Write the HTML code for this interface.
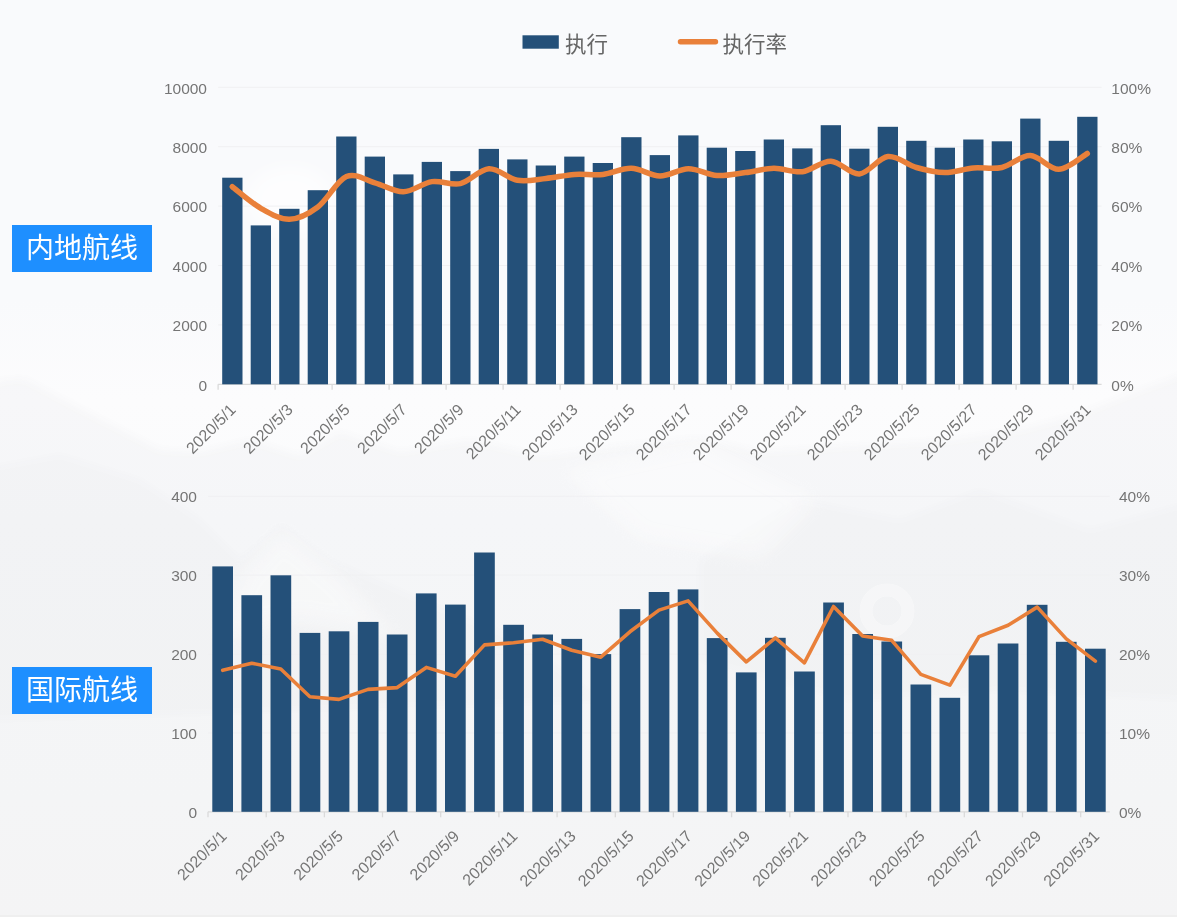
<!DOCTYPE html>
<html lang="zh"><head><meta charset="utf-8"><title>航线执行率</title>
<style>
html,body{margin:0;padding:0}
body{width:1177px;height:917px;overflow:hidden;position:relative;background:#f9fafc;font-family:"Liberation Sans","Noto Sans CJK SC",sans-serif}
#bg{position:absolute;left:0;top:0;width:1177px;height:917px;background:linear-gradient(180deg,#f9fafc 0px,#f9fafc 300px,#fcfcfd 400px,#fafbfc 520px,#f9fafa 800px,#f9f9f9 917px)}
svg{position:absolute;left:0;top:0;filter:blur(0.5px)}
.ax{font-size:15.5px;fill:#757575;font-family:"Liberation Sans","Noto Sans CJK SC",sans-serif}
.xl{font-size:16px;fill:#757575;font-family:"Liberation Sans","Noto Sans CJK SC",sans-serif}
.lg{font-size:21.5px;fill:#666;font-family:"Liberation Sans","Noto Sans CJK SC",sans-serif}
.tag{position:absolute;left:12px;width:140px;height:47px;background:#1e8fff;color:#fff;font-size:28px;line-height:48px;text-align:center;letter-spacing:0px;filter:blur(0.4px)}
</style></head><body>
<div id="bg"></div>
<svg width="1177" height="917" viewBox="0 0 1177 917">
<defs><filter id="bl" color-interpolation-filters="sRGB" x="-5%" y="-5%" width="110%" height="110%"><feGaussianBlur stdDeviation="4"/></filter>
<filter id="bl2" color-interpolation-filters="sRGB" x="-20%" y="-20%" width="140%" height="140%"><feGaussianBlur stdDeviation="9"/></filter></defs>
<g id="mount">
<g opacity="0.028"><path filter="url(#bl)" d="M-20 392 L3 380 L25 379 L60 398 L110 424 L160 450 L200 452 L250 440 L300 456 L340 432 L400 452 L470 440 L540 456 L620 446 L700 438 L760 452 L850 446 L950 440 L1020 430 L1080 414 L1130 394 L1200 368 L1200 940 L-20 940Z" fill="#556"/></g>
<g opacity="0.014"><path filter="url(#bl)" d="M-20 470 L60 455 L140 480 L200 520 L240 560 L281 524 L330 560 L420 600 L520 640 L600 700 L-20 720Z" fill="#556"/></g>
<g opacity="0.014"><path filter="url(#bl)" d="M700 560 L800 500 L900 520 L980 490 L1090 530 L1200 500 L1200 700 L1000 690 L850 700 L700 660Z" fill="#556"/></g>
<g opacity="0.4"><path filter="url(#bl2)" d="M240 575 L281 528 L340 575 L400 640 L300 620 L220 640Z" fill="#fff"/></g>
<g opacity="0.4"><path filter="url(#bl2)" d="M560 470 L700 440 L820 500 L760 560 L640 540Z" fill="#fff"/></g>
<g opacity="0.6"><ellipse filter="url(#bl2)" cx="290" cy="200" rx="45" ry="35" fill="#fff"/></g>
<circle cx="887" cy="611" r="21" fill="none" stroke="#fff" stroke-width="13" stroke-opacity="0.35"/>
</g>
<rect x="522.5" y="35.3" width="36.3" height="13.4" fill="#245079"/>
<text x="565" y="51.5" class="lg">执行</text>
<line x1="680.5" x2="715.5" y1="41.8" y2="41.8" stroke="#E9803A" stroke-width="5.4" stroke-linecap="round"/>
<text x="722.5" y="51.5" class="lg">执行率</text>
<line x1="218.1" x2="1101.6" y1="87.3" y2="87.3" stroke="#F0F0F2" stroke-width="1"/>
<line x1="218.1" x2="1101.6" y1="146.7" y2="146.7" stroke="#F0F0F2" stroke-width="1"/>
<line x1="218.1" x2="1101.6" y1="206.1" y2="206.1" stroke="#F0F0F2" stroke-width="1"/>
<line x1="218.1" x2="1101.6" y1="265.5" y2="265.5" stroke="#F0F0F2" stroke-width="1"/>
<line x1="218.1" x2="1101.6" y1="324.9" y2="324.9" stroke="#F0F0F2" stroke-width="1"/>
<line x1="218.1" x2="1101.6" y1="384.3" y2="384.3" stroke="#DADADA" stroke-width="1.3"/>
<line x1="218.1" x2="218.1" y1="384.3" y2="389.8" stroke="#DADADA" stroke-width="1.3"/>
<line x1="275.1" x2="275.1" y1="384.3" y2="389.8" stroke="#DADADA" stroke-width="1.3"/>
<line x1="332.1" x2="332.1" y1="384.3" y2="389.8" stroke="#DADADA" stroke-width="1.3"/>
<line x1="389.1" x2="389.1" y1="384.3" y2="389.8" stroke="#DADADA" stroke-width="1.3"/>
<line x1="446.1" x2="446.1" y1="384.3" y2="389.8" stroke="#DADADA" stroke-width="1.3"/>
<line x1="503.1" x2="503.1" y1="384.3" y2="389.8" stroke="#DADADA" stroke-width="1.3"/>
<line x1="560.1" x2="560.1" y1="384.3" y2="389.8" stroke="#DADADA" stroke-width="1.3"/>
<line x1="617.1" x2="617.1" y1="384.3" y2="389.8" stroke="#DADADA" stroke-width="1.3"/>
<line x1="674.1" x2="674.1" y1="384.3" y2="389.8" stroke="#DADADA" stroke-width="1.3"/>
<line x1="731.1" x2="731.1" y1="384.3" y2="389.8" stroke="#DADADA" stroke-width="1.3"/>
<line x1="788.1" x2="788.1" y1="384.3" y2="389.8" stroke="#DADADA" stroke-width="1.3"/>
<line x1="845.1" x2="845.1" y1="384.3" y2="389.8" stroke="#DADADA" stroke-width="1.3"/>
<line x1="902.1" x2="902.1" y1="384.3" y2="389.8" stroke="#DADADA" stroke-width="1.3"/>
<line x1="959.1" x2="959.1" y1="384.3" y2="389.8" stroke="#DADADA" stroke-width="1.3"/>
<line x1="1016.1" x2="1016.1" y1="384.3" y2="389.8" stroke="#DADADA" stroke-width="1.3"/>
<line x1="1073.1" x2="1073.1" y1="384.3" y2="389.8" stroke="#DADADA" stroke-width="1.3"/>
<rect x="222.2" y="177.7" width="20.3" height="206.6" fill="#245079"/>
<rect x="250.7" y="225.4" width="20.3" height="158.9" fill="#245079"/>
<rect x="279.2" y="208.8" width="20.3" height="175.5" fill="#245079"/>
<rect x="307.7" y="190.2" width="20.3" height="194.1" fill="#245079"/>
<rect x="336.2" y="136.5" width="20.3" height="247.8" fill="#245079"/>
<rect x="364.7" y="156.6" width="20.3" height="227.7" fill="#245079"/>
<rect x="393.2" y="174.4" width="20.3" height="209.9" fill="#245079"/>
<rect x="421.7" y="161.9" width="20.3" height="222.4" fill="#245079"/>
<rect x="450.2" y="171.1" width="20.3" height="213.2" fill="#245079"/>
<rect x="478.7" y="148.9" width="20.3" height="235.4" fill="#245079"/>
<rect x="507.2" y="159.4" width="20.3" height="224.9" fill="#245079"/>
<rect x="535.7" y="165.5" width="20.3" height="218.8" fill="#245079"/>
<rect x="564.2" y="156.6" width="20.3" height="227.7" fill="#245079"/>
<rect x="592.7" y="163.0" width="20.3" height="221.3" fill="#245079"/>
<rect x="621.2" y="137.2" width="20.3" height="247.1" fill="#245079"/>
<rect x="649.7" y="155.1" width="20.3" height="229.2" fill="#245079"/>
<rect x="678.2" y="135.4" width="20.3" height="248.9" fill="#245079"/>
<rect x="706.7" y="147.7" width="20.3" height="236.6" fill="#245079"/>
<rect x="735.2" y="151.0" width="20.3" height="233.3" fill="#245079"/>
<rect x="763.7" y="139.5" width="20.3" height="244.8" fill="#245079"/>
<rect x="792.2" y="148.4" width="20.3" height="235.9" fill="#245079"/>
<rect x="820.7" y="125.2" width="20.3" height="259.1" fill="#245079"/>
<rect x="849.2" y="148.7" width="20.3" height="235.6" fill="#245079"/>
<rect x="877.7" y="126.8" width="20.3" height="257.5" fill="#245079"/>
<rect x="906.2" y="140.8" width="20.3" height="243.5" fill="#245079"/>
<rect x="934.7" y="147.7" width="20.3" height="236.6" fill="#245079"/>
<rect x="963.2" y="139.5" width="20.3" height="244.8" fill="#245079"/>
<rect x="991.7" y="141.3" width="20.3" height="243.0" fill="#245079"/>
<rect x="1020.2" y="118.6" width="20.3" height="265.7" fill="#245079"/>
<rect x="1048.7" y="140.8" width="20.3" height="243.5" fill="#245079"/>
<rect x="1077.2" y="116.8" width="20.3" height="267.5" fill="#245079"/>
<path d="M232.3 186.7 C237.1 190.3 251.4 202.9 260.9 208.3 C270.4 213.7 279.9 219.5 289.4 219.3 C298.9 219.1 308.4 214.1 317.9 207.0 C327.4 199.9 336.9 180.5 346.4 176.5 C355.9 172.5 365.4 180.2 374.9 182.8 C384.4 185.4 393.9 192.0 403.4 191.8 C412.9 191.6 422.4 183.0 431.9 181.6 C441.4 180.2 450.9 185.7 460.4 183.6 C469.9 181.5 479.4 169.4 488.9 168.8 C498.4 168.2 507.9 178.7 517.4 180.3 C526.9 181.9 536.4 179.5 545.9 178.5 C555.4 177.5 564.9 175.1 574.4 174.4 C583.9 173.7 593.4 175.4 602.9 174.4 C612.4 173.4 621.9 168.0 631.4 168.3 C640.9 168.6 650.4 175.9 659.9 176.0 C669.4 176.1 678.9 168.9 688.4 168.8 C697.9 168.7 707.4 174.9 716.9 175.5 C726.4 176.1 735.9 173.8 745.4 172.6 C754.9 171.4 764.4 168.5 773.9 168.3 C783.4 168.2 792.9 172.9 802.4 171.7 C811.9 170.5 821.4 160.8 830.9 161.2 C840.4 161.6 849.9 174.7 859.4 173.9 C868.9 173.1 878.4 157.7 887.9 156.6 C897.4 155.5 906.9 164.8 916.4 167.5 C925.9 170.2 935.4 172.5 944.9 172.6 C954.4 172.7 963.9 168.8 973.4 168.0 C982.9 167.2 992.4 169.6 1001.9 167.5 C1011.4 165.4 1020.8 155.3 1030.3 155.6 C1039.8 155.9 1049.3 169.7 1058.8 169.3 C1068.3 169.0 1082.6 156.1 1087.3 153.5" fill="none" stroke="#E9803A" stroke-width="5.5" stroke-linecap="round" stroke-linejoin="round"/>
<text x="207.0" y="93.6" text-anchor="end" class="ax">10000</text>
<text x="207.0" y="153.0" text-anchor="end" class="ax">8000</text>
<text x="207.0" y="212.4" text-anchor="end" class="ax">6000</text>
<text x="207.0" y="271.8" text-anchor="end" class="ax">4000</text>
<text x="207.0" y="331.2" text-anchor="end" class="ax">2000</text>
<text x="207.0" y="390.6" text-anchor="end" class="ax">0</text>
<text x="1111.3" y="93.6" class="ax">100%</text>
<text x="1111.3" y="153.0" class="ax">80%</text>
<text x="1111.3" y="212.4" class="ax">60%</text>
<text x="1111.3" y="271.8" class="ax">40%</text>
<text x="1111.3" y="331.2" class="ax">20%</text>
<text x="1111.3" y="390.6" class="ax">0%</text>
<text transform="translate(236.8 410.8) rotate(-45)" text-anchor="end" class="xl">2020/5/1</text>
<text transform="translate(293.9 410.8) rotate(-45)" text-anchor="end" class="xl">2020/5/3</text>
<text transform="translate(350.9 410.8) rotate(-45)" text-anchor="end" class="xl">2020/5/5</text>
<text transform="translate(407.9 410.8) rotate(-45)" text-anchor="end" class="xl">2020/5/7</text>
<text transform="translate(464.9 410.8) rotate(-45)" text-anchor="end" class="xl">2020/5/9</text>
<text transform="translate(521.9 410.8) rotate(-45)" text-anchor="end" class="xl">2020/5/11</text>
<text transform="translate(578.9 410.8) rotate(-45)" text-anchor="end" class="xl">2020/5/13</text>
<text transform="translate(635.9 410.8) rotate(-45)" text-anchor="end" class="xl">2020/5/15</text>
<text transform="translate(692.9 410.8) rotate(-45)" text-anchor="end" class="xl">2020/5/17</text>
<text transform="translate(749.9 410.8) rotate(-45)" text-anchor="end" class="xl">2020/5/19</text>
<text transform="translate(806.9 410.8) rotate(-45)" text-anchor="end" class="xl">2020/5/21</text>
<text transform="translate(863.9 410.8) rotate(-45)" text-anchor="end" class="xl">2020/5/23</text>
<text transform="translate(920.9 410.8) rotate(-45)" text-anchor="end" class="xl">2020/5/25</text>
<text transform="translate(977.9 410.8) rotate(-45)" text-anchor="end" class="xl">2020/5/27</text>
<text transform="translate(1034.8 410.8) rotate(-45)" text-anchor="end" class="xl">2020/5/29</text>
<text transform="translate(1091.8 410.8) rotate(-45)" text-anchor="end" class="xl">2020/5/31</text>
<line x1="208.0" x2="1109.8" y1="496.2" y2="496.2" stroke="#F0F0F2" stroke-width="1"/>
<line x1="208.0" x2="1109.8" y1="575.1" y2="575.1" stroke="#F0F0F2" stroke-width="1"/>
<line x1="208.0" x2="1109.8" y1="654.0" y2="654.0" stroke="#F0F0F2" stroke-width="1"/>
<line x1="208.0" x2="1109.8" y1="732.9" y2="732.9" stroke="#F0F0F2" stroke-width="1"/>
<line x1="208.0" x2="1109.8" y1="811.8" y2="811.8" stroke="#DADADA" stroke-width="1.3"/>
<line x1="208.0" x2="208.0" y1="811.8" y2="817.3" stroke="#DADADA" stroke-width="1.3"/>
<line x1="266.2" x2="266.2" y1="811.8" y2="817.3" stroke="#DADADA" stroke-width="1.3"/>
<line x1="324.4" x2="324.4" y1="811.8" y2="817.3" stroke="#DADADA" stroke-width="1.3"/>
<line x1="382.5" x2="382.5" y1="811.8" y2="817.3" stroke="#DADADA" stroke-width="1.3"/>
<line x1="440.7" x2="440.7" y1="811.8" y2="817.3" stroke="#DADADA" stroke-width="1.3"/>
<line x1="498.9" x2="498.9" y1="811.8" y2="817.3" stroke="#DADADA" stroke-width="1.3"/>
<line x1="557.1" x2="557.1" y1="811.8" y2="817.3" stroke="#DADADA" stroke-width="1.3"/>
<line x1="615.3" x2="615.3" y1="811.8" y2="817.3" stroke="#DADADA" stroke-width="1.3"/>
<line x1="673.4" x2="673.4" y1="811.8" y2="817.3" stroke="#DADADA" stroke-width="1.3"/>
<line x1="731.6" x2="731.6" y1="811.8" y2="817.3" stroke="#DADADA" stroke-width="1.3"/>
<line x1="789.8" x2="789.8" y1="811.8" y2="817.3" stroke="#DADADA" stroke-width="1.3"/>
<line x1="848.0" x2="848.0" y1="811.8" y2="817.3" stroke="#DADADA" stroke-width="1.3"/>
<line x1="906.2" x2="906.2" y1="811.8" y2="817.3" stroke="#DADADA" stroke-width="1.3"/>
<line x1="964.3" x2="964.3" y1="811.8" y2="817.3" stroke="#DADADA" stroke-width="1.3"/>
<line x1="1022.5" x2="1022.5" y1="811.8" y2="817.3" stroke="#DADADA" stroke-width="1.3"/>
<line x1="1080.7" x2="1080.7" y1="811.8" y2="817.3" stroke="#DADADA" stroke-width="1.3"/>
<rect x="212.3" y="566.4" width="20.7" height="245.4" fill="#245079"/>
<rect x="241.4" y="595.2" width="20.7" height="216.6" fill="#245079"/>
<rect x="270.5" y="575.3" width="20.7" height="236.5" fill="#245079"/>
<rect x="299.6" y="632.9" width="20.7" height="178.9" fill="#245079"/>
<rect x="328.7" y="631.3" width="20.7" height="180.5" fill="#245079"/>
<rect x="357.8" y="621.9" width="20.7" height="189.9" fill="#245079"/>
<rect x="386.8" y="634.5" width="20.7" height="177.3" fill="#245079"/>
<rect x="415.9" y="593.4" width="20.7" height="218.4" fill="#245079"/>
<rect x="445.0" y="604.6" width="20.7" height="207.2" fill="#245079"/>
<rect x="474.1" y="552.5" width="20.7" height="259.3" fill="#245079"/>
<rect x="503.2" y="624.8" width="20.7" height="187.0" fill="#245079"/>
<rect x="532.3" y="634.5" width="20.7" height="177.3" fill="#245079"/>
<rect x="561.4" y="638.9" width="20.7" height="172.9" fill="#245079"/>
<rect x="590.5" y="654.1" width="20.7" height="157.7" fill="#245079"/>
<rect x="619.6" y="609.1" width="20.7" height="202.7" fill="#245079"/>
<rect x="648.7" y="592.0" width="20.7" height="219.8" fill="#245079"/>
<rect x="677.7" y="589.4" width="20.7" height="222.4" fill="#245079"/>
<rect x="706.8" y="638.1" width="20.7" height="173.7" fill="#245079"/>
<rect x="735.9" y="672.4" width="20.7" height="139.4" fill="#245079"/>
<rect x="765.0" y="637.8" width="20.7" height="174.0" fill="#245079"/>
<rect x="794.1" y="671.5" width="20.7" height="140.3" fill="#245079"/>
<rect x="823.2" y="602.5" width="20.7" height="209.3" fill="#245079"/>
<rect x="852.3" y="634.0" width="20.7" height="177.8" fill="#245079"/>
<rect x="881.4" y="641.5" width="20.7" height="170.3" fill="#245079"/>
<rect x="910.5" y="684.5" width="20.7" height="127.3" fill="#245079"/>
<rect x="939.5" y="697.8" width="20.7" height="114.0" fill="#245079"/>
<rect x="968.6" y="655.3" width="20.7" height="156.5" fill="#245079"/>
<rect x="997.7" y="643.5" width="20.7" height="168.3" fill="#245079"/>
<rect x="1026.8" y="604.8" width="20.7" height="207.0" fill="#245079"/>
<rect x="1055.9" y="641.8" width="20.7" height="170.0" fill="#245079"/>
<rect x="1085.0" y="648.7" width="20.7" height="163.1" fill="#245079"/>
<path d="M222.7 670.3 L251.7 663.2 L280.8 669.0 L309.9 696.8 L339.0 699.4 L368.1 689.4 L397.2 687.6 L426.3 667.4 L455.4 676.3 L484.5 644.9 L513.5 642.8 L542.6 639.2 L571.7 650.2 L600.8 657.2 L629.9 631.8 L659.0 610.1 L688.1 600.9 L717.2 633.1 L746.3 661.9 L775.4 637.9 L804.4 662.8 L833.5 606.5 L862.6 636.0 L891.7 640.3 L920.8 674.4 L949.9 685.1 L979.0 636.6 L1008.1 625.3 L1037.2 607.1 L1066.3 638.9 L1095.4 661.1" fill="none" stroke="#E9803A" stroke-width="3.6" stroke-linecap="round" stroke-linejoin="round"/>
<text x="197.0" y="502.0" text-anchor="end" class="ax">400</text>
<text x="197.0" y="580.9" text-anchor="end" class="ax">300</text>
<text x="197.0" y="659.8" text-anchor="end" class="ax">200</text>
<text x="197.0" y="738.7" text-anchor="end" class="ax">100</text>
<text x="197.0" y="817.6" text-anchor="end" class="ax">0</text>
<text x="1119.0" y="502.0" class="ax">40%</text>
<text x="1119.0" y="580.9" class="ax">30%</text>
<text x="1119.0" y="659.8" class="ax">20%</text>
<text x="1119.0" y="738.7" class="ax">10%</text>
<text x="1119.0" y="817.6" class="ax">0%</text>
<text transform="translate(227.7 837.1) rotate(-45)" text-anchor="end" class="xl">2020/5/1</text>
<text transform="translate(285.8 837.1) rotate(-45)" text-anchor="end" class="xl">2020/5/3</text>
<text transform="translate(344.0 837.1) rotate(-45)" text-anchor="end" class="xl">2020/5/5</text>
<text transform="translate(402.2 837.1) rotate(-45)" text-anchor="end" class="xl">2020/5/7</text>
<text transform="translate(460.4 837.1) rotate(-45)" text-anchor="end" class="xl">2020/5/9</text>
<text transform="translate(518.5 837.1) rotate(-45)" text-anchor="end" class="xl">2020/5/11</text>
<text transform="translate(576.7 837.1) rotate(-45)" text-anchor="end" class="xl">2020/5/13</text>
<text transform="translate(634.9 837.1) rotate(-45)" text-anchor="end" class="xl">2020/5/15</text>
<text transform="translate(693.1 837.1) rotate(-45)" text-anchor="end" class="xl">2020/5/17</text>
<text transform="translate(751.3 837.1) rotate(-45)" text-anchor="end" class="xl">2020/5/19</text>
<text transform="translate(809.4 837.1) rotate(-45)" text-anchor="end" class="xl">2020/5/21</text>
<text transform="translate(867.6 837.1) rotate(-45)" text-anchor="end" class="xl">2020/5/23</text>
<text transform="translate(925.8 837.1) rotate(-45)" text-anchor="end" class="xl">2020/5/25</text>
<text transform="translate(984.0 837.1) rotate(-45)" text-anchor="end" class="xl">2020/5/27</text>
<text transform="translate(1042.2 837.1) rotate(-45)" text-anchor="end" class="xl">2020/5/29</text>
<text transform="translate(1100.4 837.1) rotate(-45)" text-anchor="end" class="xl">2020/5/31</text>
</svg>
<div style="position:absolute;left:0;top:915px;width:1177px;height:2px;background:#efefef"></div>
<div class="tag" style="top:224.5px">内地航线</div>
<div class="tag" style="top:666.5px">国际航线</div>
</body></html>
